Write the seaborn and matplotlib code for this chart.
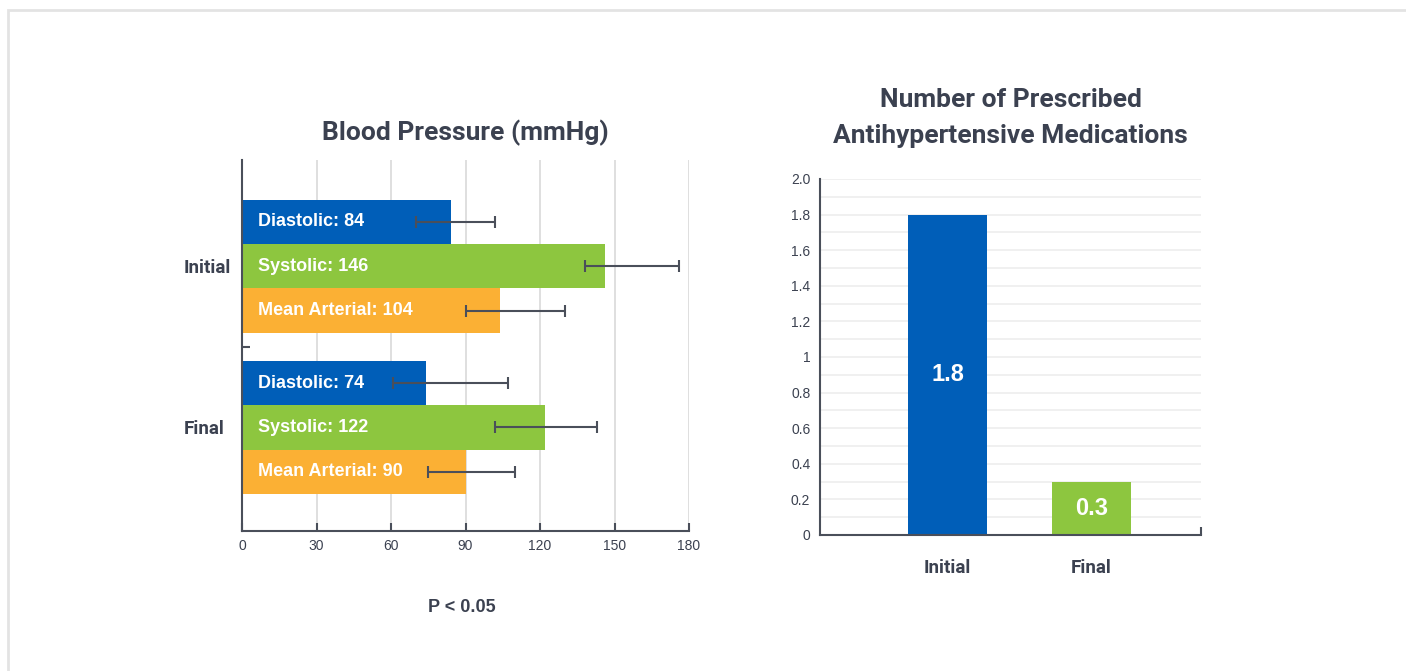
import matplotlib
matplotlib.use("Agg")
import matplotlib.pyplot as plt
from matplotlib.patches import Rectangle
import seaborn as sns
import pandas as pd
import numpy as np

# data
groups = ["Initial", "Final"]
measures = ["Diastolic", "Systolic", "Mean Arterial"]
bp_initial = [84, 146, 104]
bp_final = [74, 122, 90]
err_low_initial = [70, 138, 90]
err_high_initial = [102, 176, 130]
err_low_final = [61, 102, 75]
err_high_final = [107, 143, 110]
x_ticks = [0, 30, 60, 90, 120, 150, 180]

med_groups = ["Initial", "Final"]
med_counts = [1.8, 0.3]
med_labels = ["1.8", "0.3"]
y_ticks = [0, 0.2, 0.4, 0.6, 0.8, 1.0, 1.2, 1.4, 1.6, 1.8, 2.0]
y_tick_labels = ["0", "0.2", "0.4", "0.6", "0.8", "1", "1.2", "1.4", "1.6", "1.8", "2.0"]

blue = "#005EB8"
green = "#8DC63F"
orange = "#FBB034"
dark = "#3b4150"
axis_col = "#4a4f5a"

sns.set_theme(style="white")
plt.rcParams["font.family"] = ["Liberation Sans", "DejaVu Sans"]
narrow = ["Roboto", "DejaVu Sans"]

fig = plt.figure(figsize=(14.06, 6.71), dpi=100)
fig.patches.append(Rectangle((8 / 1406, -0.1), 1.2, 1 - 10 / 671 + 0.1, fill=False,
                             edgecolor="#e3e3e3", lw=2, transform=fig.transFigure))

# ---- left: blood pressure ----
ax1 = fig.add_axes([242 / 1406, 1 - 531 / 671, 447 / 1406, 371 / 671])
df = pd.DataFrame({
    "group": np.repeat(groups, len(measures)),
    "measure": measures * len(groups),
    "value": bp_initial + bp_final,
})
sns.barplot(data=df, y="group", x="value", hue="measure", orient="h",
            palette=[blue, green, orange], width=0.826, saturation=1,
            linewidth=0, ax=ax1, legend=False)

lows = [err_low_initial, err_low_final]
highs = [err_high_initial, err_high_final]
vals = [bp_initial, bp_final]
bar_conts = list(ax1.containers)
for i, cont in enumerate(bar_conts):
    for j, bar in enumerate(cont):
        yc = bar.get_y() + bar.get_height() / 2
        lo, hi = lows[j][i], highs[j][i]
        ax1.errorbar((lo + hi) / 2, yc, xerr=(hi - lo) / 2, color=axis_col,
                     lw=1.5, capsize=4.5, capthick=1.5, zorder=5)
        ax1.text(6.4, yc, f"{measures[i]}: {vals[j][i]}", color="white",
                 fontsize=13, fontweight="bold", ha="left", va="center", zorder=6)

ax1.set_xlim(0, 180)
ax1.set_ylim(1.643, -0.66)
ax1.set_xticks(x_ticks)
ax1.set_xticklabels([str(t) for t in x_ticks])
ax1.set_yticks([0, 1])
ax1.set_yticklabels(groups, fontfamily=narrow, fontweight="bold", fontsize=13.5,
                    color=dark, ha="left")
ax1.set_yticks([0.5], minor=True)
ax1.tick_params(axis="y", which="major", length=0, pad=42)
ax1.tick_params(axis="y", which="minor", length=6, width=1.5, direction="in",
                color=axis_col, left=True)
ax1.tick_params(axis="x", length=6, width=1.5, direction="in", color=axis_col,
                labelsize=10, labelcolor=dark, pad=6, bottom=True)
ax1.grid(axis="x", color="#dcdcdc", lw=1.3)
ax1.set_axisbelow(True)
ax1.set_xlabel("")
ax1.set_ylabel("")
for s in ["top", "right"]:
    ax1.spines[s].set_visible(False)
for s in ["left", "bottom"]:
    ax1.spines[s].set_color(axis_col)
    ax1.spines[s].set_linewidth(1.5)
ax1.set_title("Blood Pressure (mmHg)", fontfamily=narrow, fontweight="bold",
              fontsize=19, color=dark, pad=14)

fig.text(462 / 1406, 1 - 607 / 671, "P < 0.05", ha="center", va="center",
         fontsize=13, fontweight="bold", color=dark)

# ---- right: medications ----
ax2 = fig.add_axes([820 / 1406, 1 - 535 / 671, 381 / 1406, 356 / 671])
sns.barplot(x=med_groups, y=med_counts, hue=med_groups, palette=[blue, green],
            width=0.55, saturation=1, linewidth=0, ax=ax2, legend=False)
for cont, lab in zip(list(ax2.containers), med_labels):
    ax2.bar_label(cont, labels=[lab], label_type="center", color="white",
                  fontsize=17, fontweight="bold")

ax2.set_xlim(-0.885, 1.76)
ax2.set_ylim(0, 2.0)
ax2.set_yticks(y_ticks)
ax2.set_yticklabels(y_tick_labels)
ax2.set_yticks(np.arange(0.1, 2.0, 0.2), minor=True)
ax2.set_xticks(range(len(med_groups)))
ax2.set_xticklabels(med_groups, fontfamily=narrow, fontweight="bold",
                    fontsize=13.5, color=dark)
ax2.set_xticks([1.76], minor=True)
ax2.tick_params(axis="x", which="major", length=0, pad=17)
ax2.tick_params(axis="x", which="minor", length=6, width=1.5, direction="in",
                color=axis_col, bottom=True)
ax2.tick_params(axis="y", which="both", length=0, pad=7, labelsize=10,
                labelcolor=dark)
ax2.grid(axis="y", which="both", color="#eeeeee", lw=1.2)
ax2.set_axisbelow(True)
for s in ["top", "right"]:
    ax2.spines[s].set_visible(False)
for s in ["left", "bottom"]:
    ax2.spines[s].set_color(axis_col)
    ax2.spines[s].set_linewidth(1.5)
ax2.set_title("Number of Prescribed\nAntihypertensive Medications",
              fontfamily=narrow, fontweight="bold", fontsize=19, color=dark,
              pad=26, linespacing=1.6)

fig.savefig("out.png", dpi=100)
